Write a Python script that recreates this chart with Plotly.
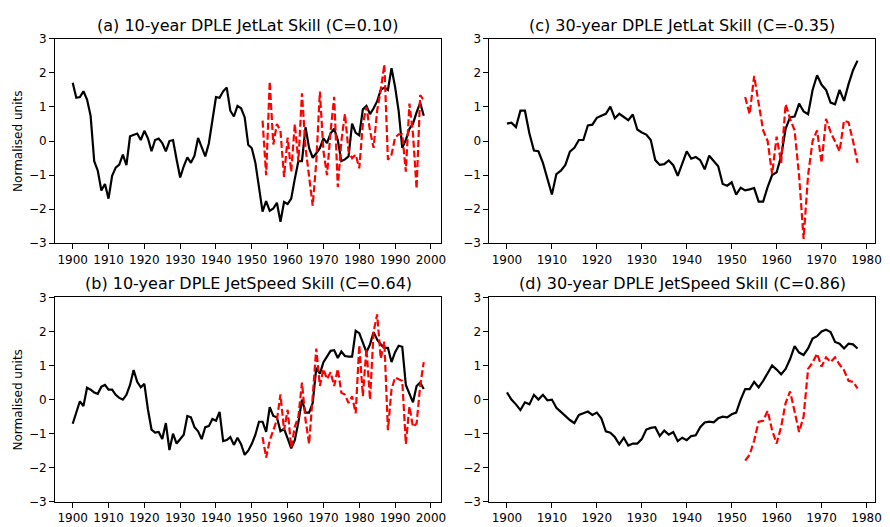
import plotly.graph_objects as go

# ---------------- data ----------------
years_10 = list(range(1900, 1999))
years_30 = list(range(1900, 1979))
years_hc = list(range(1953, 1999))
years_hc30 = list(range(1953, 1979))

jetlat10_obs = [1.71, 1.27, 1.29, 1.46, 1.22, 0.74, -0.59, -0.87, -1.45, -1.26,
                -1.69, -1.02, -0.78, -0.69, -0.40, -0.71, 0.14, 0.17, 0.22, 0.03,
                0.30, 0.08, -0.30, 0.03, 0.07, -0.06, -0.30, 0.00, 0.03, -0.54,
                -1.07, -0.74, -0.48, -0.64, -0.43, 0.09, -0.17, -0.45, -0.07, 0.65,
                1.29, 1.27, 1.46, 1.57, 0.89, 0.72, 1.03, 0.96, 0.70, -0.11,
                -0.21, -0.64, -1.30, -2.07, -1.76, -2.05, -1.98, -1.81, -2.37, -1.79,
                -1.85, -1.69, -1.11, -0.59, -0.59, 0.41, -0.21, -0.49, -0.36, -0.21,
                0.08, -0.06, 0.23, 0.36, 0.03, -0.59, -0.54, -0.45, 0.51, 0.24,
                0.17, 0.93, 1.03, 0.79, 0.96, 1.17, 1.50, 1.57, 1.50, 2.14,
                1.59, 0.88, -0.20, 0.03, 0.36, 0.51, 0.84, 1.12, 0.74]
jetlat10_dple = [0.60, -1.00, 1.75, -0.10, 0.50, 0.30, -1.05, 0.10, -0.90, 0.50,
                 -0.60, 1.40, -0.20, -1.00, -1.90, -0.60, 1.45, -0.30, -1.00, 0.30,
                 1.30, -1.35, 0.00, 0.80, -0.30, -0.50, -0.40, -0.80, 0.50, 1.00,
                 0.30, -0.20, 0.90, 1.50, 2.25, -0.55, -0.40, 0.10, 0.20, 0.20,
                 -0.90, 1.10, 0.20, -1.40, 1.35, 1.20]

jetspeed10_obs = [-0.71, -0.38, -0.05, -0.19, 0.35, 0.29, 0.21, 0.17, 0.38, 0.43,
                  0.29, 0.29, 0.14, 0.05, 0.00, 0.14, 0.43, 0.87, 0.52, 0.36,
                  0.46, -0.29, -0.88, -0.97, -0.95, -1.16, -0.69, -1.48, -1.00, -1.29,
                  -1.16, -1.03, -0.48, -0.52, -0.81, -0.93, -1.16, -0.81, -0.78, -0.57,
                  -0.62, -0.36, -1.22, -1.19, -1.10, -1.33, -1.12, -1.31, -1.62, -1.50,
                  -1.30, -1.03, -0.65, -0.65, -0.95, -0.22, -0.48, -0.52, -0.93, -0.86,
                  -1.14, -1.43, -1.19, -0.67, 0.00, -0.38, -0.38, -0.10, 0.93, 0.76,
                  1.10, 1.28, 1.43, 1.45, 1.22, 1.41, 1.28, 1.26, 1.26, 2.02,
                  1.95, 1.67, 1.39, 1.62, 1.98, 1.76, 1.62, 1.52, 1.52, 1.10,
                  1.39, 1.58, 1.55, 0.43, 0.19, -0.08, 0.40, 0.50, 0.31]
jetspeed10_dple = [-1.10, -1.70, -1.20, -0.90, -0.60, 0.15, -0.90, -0.30, -1.40, -0.80,
                   -0.50, 0.50, -0.60, -1.30, 0.00, 1.50, 0.40, 0.90, 0.60, 0.80,
                   0.40, 0.90, 0.20, 0.15, -0.10, 0.10, -0.40, 1.60, 0.10, 1.50,
                   0.00, 2.00, 2.50, 1.20, 1.70, -0.90, 0.30, 0.65, 0.60, 0.55,
                   -1.30, -0.20, -0.80, -0.70, 0.40, 1.10]

jetlat30_obs = [0.51, 0.54, 0.41, 0.89, 0.89, 0.22, -0.28, -0.30, -0.64, -1.07,
                -1.57, -0.97, -0.87, -0.70, -0.31, -0.20, 0.03, 0.03, 0.46, 0.48,
                0.68, 0.74, 0.80, 1.01, 0.67, 0.80, 0.70, 0.61, 0.78, 0.34,
                0.25, 0.19, 0.03, -0.56, -0.70, -0.68, -0.57, -0.71, -1.02, -0.64,
                -0.30, -0.52, -0.47, -0.56, -0.83, -0.43, -0.59, -0.74, -1.26, -1.31,
                -1.21, -1.57, -1.37, -1.45, -1.42, -1.38, -1.78, -1.78, -1.35, -1.00,
                -0.92, -0.45, 0.36, 0.70, 0.72, 1.10, 0.87, 0.79, 1.50, 1.93,
                1.65, 1.50, 1.13, 1.08, 1.50, 1.18, 1.67, 2.08, 2.36]
jetlat30_dple = [1.29, 0.79, 1.91, 1.10, 0.31, 0.00, -0.97, 0.13, -0.64, 1.08,
                 0.65, 0.31, -1.02, -2.87, -1.00, 0.00, 0.31, -0.64, 0.65, 0.27,
                 0.00, -0.30, 0.60, 0.55, 0.00, -0.64]

jetspeed30_obs = [0.21, 0.00, -0.14, -0.31, -0.08, -0.14, 0.14, 0.00, 0.14, -0.02,
                  0.00, -0.24, -0.36, -0.48, -0.60, -0.69, -0.45, -0.40, -0.35, -0.45,
                  -0.38, -0.55, -0.93, -0.97, -1.10, -1.31, -1.12, -1.35, -1.29, -1.29,
                  -1.16, -0.88, -0.83, -0.81, -1.07, -0.91, -1.03, -0.95, -1.22, -1.12,
                  -1.19, -1.07, -1.05, -0.81, -0.67, -0.65, -0.67, -0.55, -0.50, -0.52,
                  -0.43, -0.38, 0.00, 0.31, 0.31, 0.52, 0.36, 0.55, 0.76, 1.00,
                  0.88, 0.74, 0.90, 1.19, 1.57, 1.38, 1.31, 1.50, 1.79, 1.86,
                  2.00, 2.05, 1.98, 1.69, 1.64, 1.50, 1.64, 1.62, 1.50]
jetspeed30_dple = [-1.79, -1.62, -1.20, -0.65, -0.62, -0.33, -0.90, -1.29, -0.80, -0.10,
                   0.24, -0.40, -0.95, -0.50, 0.90, 1.09, 1.35, 0.97, 1.24, 1.10,
                   1.24, 1.03, 0.86, 0.55, 0.52, 0.33]

titles = ["(a) 10-year DPLE JetLat Skill (C=0.10)",
          "(c) 30-year DPLE JetLat Skill (C=-0.35)",
          "(b) 10-year DPLE JetSpeed Skill (C=0.64)",
          "(d) 30-year DPLE JetSpeed Skill (C=0.86)"]
ylabel = "Normalised units"
yticks = [-3, -2, -1, 0, 1, 2, 3]
xticks_10 = list(range(1900, 2001, 10))
xticks_30 = list(range(1900, 1981, 10))

# ---------------- figure ----------------
W, H = 890, 527
FONT = "DejaVu Sans"

panels = [
    (years_10, jetlat10_obs, years_hc, jetlat10_dple, xticks_10),
    (years_30, jetlat30_obs, years_hc30, jetlat30_dple, xticks_30),
    (years_10, jetspeed10_obs, years_hc, jetspeed10_dple, xticks_10),
    (years_30, jetspeed30_obs, years_hc30, jetspeed30_dple, xticks_30),
]

# pixel boxes (left, right, top, bottom)
boxes = [(55.6, 444.8, 32.7, 242.7),
         (493.3, 882.0, 32.7, 242.7),
         (55.6, 444.8, 298.3, 508.3),
         (493.3, 882.0, 298.3, 508.3)]

fig = go.Figure()
layout = dict(width=W, height=H, margin=dict(l=0, r=0, t=0, b=0),
              paper_bgcolor="white", plot_bgcolor="white", showlegend=False,
              font=dict(family=FONT, size=12, color="black"))
annotations = []

for i, ((xo, yo, xh, yh, xt), (l, r, t, b)) in enumerate(zip(panels, boxes)):
    n = "" if i == 0 else str(i + 1)
    xa, ya = "x" + n, "y" + n
    fig.add_trace(go.Scatter(x=xo, y=yo, mode="lines", xaxis=xa, yaxis=ya,
                             line=dict(color="black", width=2.2)))
    fig.add_trace(go.Scatter(x=xh, y=yh, mode="lines", xaxis=xa, yaxis=ya,
                             line=dict(color="#ff0000", width=2.2, dash="7px,3px")))
    lo, hi = min(xo + xh), max(xo + xh)
    pad = 0.05 * (hi - lo)
    common = dict(showline=True, mirror=True, linecolor="black", linewidth=1,
                  ticks="outside", ticklen=5, tickwidth=1, tickcolor="black",
                  showgrid=False, zeroline=False,
                  tickfont=dict(family=FONT, size=12, color="black"))
    layout["xaxis" + n] = dict(common, domain=[l / W, r / W], anchor=ya,
                               range=[lo - pad, hi + pad], tickvals=xt,
                               ticktext=[str(v) for v in xt])
    layout["yaxis" + n] = dict(common, domain=[1 - b / H, 1 - t / H], anchor=xa,
                               range=[-3, 3], tickvals=yticks)
    annotations.append(dict(text=titles[i], xref="paper", yref="paper",
                            x=(l + r) / 2 / W, y=1 - t / H, yanchor="bottom",
                            xanchor="center", yshift=2, showarrow=False,
                            font=dict(family=FONT, size=16, color="black")))
    if i in (0, 2):
        annotations.append(dict(text=ylabel, xref="paper", yref="paper",
                                x=18 / W, y=1 - (t + b) / 2 / H, textangle=-90,
                                xanchor="center", yanchor="middle", showarrow=False,
                                font=dict(family=FONT, size=12, color="black")))

layout["annotations"] = annotations
fig.update_layout(**layout)
fig.write_html("out.html")
